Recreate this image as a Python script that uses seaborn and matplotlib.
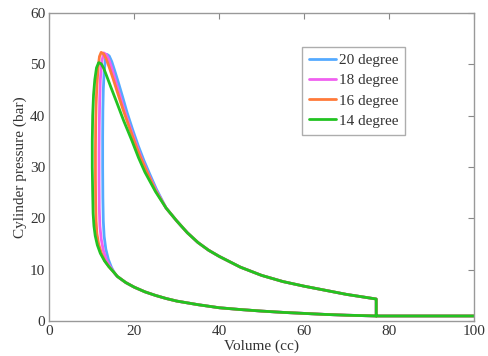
import matplotlib
matplotlib.use("Agg")
import matplotlib.pyplot as plt
import seaborn as sns
import pandas as pd

# ---- data ----
series_labels = ["20 degree", "18 degree", "16 degree", "14 degree"]
series_colors = ["#55AAFF", "#F060F0", "#FF7A3A", "#22C322"]

# intake / compression part shared by all runs (volume cc, pressure bar)
comp_V = [100, 77, 70, 65, 60, 55, 50, 45, 40, 35, 30, 27.5, 25, 22.5, 20, 18, 16, 15.3]
comp_p = [1.0, 1.0, 1.15, 1.3, 1.5, 1.7, 1.95, 2.25, 2.6, 3.2, 3.9, 4.4, 5.0, 5.7, 6.6, 7.5, 8.7, 9.4]

# combustion part, one per ignition timing
tdc_V_20 = [14.6, 13.9, 13.3, 12.9, 12.7, 12.6, 12.55, 12.55, 12.6, 12.7, 12.9, 13.2, 13.6, 14.1, 14.7,
            15.4, 16.3, 17.3, 18.3, 19.6, 20.9, 22.3, 23.7, 25.2]
tdc_p_20 = [10.5, 12.0, 14.0, 16.5, 19.5, 24.0, 30.0, 36.0, 41.0, 45.0, 48.5, 51.0, 51.9, 51.6, 50.5,
            48.7, 46.3, 43.5, 40.6, 37.3, 34.2, 31.2, 28.5, 25.7]

tdc_V_18 = [14.3, 13.4, 12.7, 12.2, 11.9, 11.75, 11.7, 11.7, 11.75, 11.85, 12.0, 12.3, 12.8, 13.4, 14.0,
            14.7, 15.5, 16.5, 17.6, 18.9, 20.2, 21.6, 23.1, 25.1]
tdc_p_18 = [10.6, 12.0, 13.8, 16.0, 18.5, 22.0, 27.0, 33.0, 38.0, 43.0, 47.0, 50.3, 52.2, 51.9, 50.9,
            49.2, 47.0, 44.2, 41.2, 38.0, 35.0, 31.9, 29.0, 25.5]

tdc_V_16 = [14.0, 13.0, 12.2, 11.6, 11.2, 11.0, 10.9, 10.85, 10.85, 10.9, 11.0, 11.2, 11.5, 11.8, 12.2,
            12.8, 13.4, 14.1, 15.0, 16.0, 17.3, 18.7, 20.0, 21.4, 22.9, 25.0]
tdc_p_16 = [10.6, 11.8, 13.3, 15.0, 17.0, 19.5, 23.0, 28.0, 33.0, 38.0, 42.0, 46.0, 49.5, 51.5, 52.3,
            52.0, 51.0, 49.4, 47.2, 44.6, 41.3, 38.0, 35.0, 32.0, 29.2, 25.4]

tdc_V_14 = [14.0, 13.0, 12.0, 11.3, 10.8, 10.5, 10.3, 10.2, 10.1, 10.1, 10.2, 10.4, 10.7, 11.1, 11.6,
            12.2, 12.8, 13.5, 14.5, 15.9, 17.5, 19.4, 21.0, 22.5, 25.0]
tdc_p_14 = [10.6, 11.7, 13.2, 14.8, 16.6, 18.5, 21.0, 25.0, 30.0, 35.0, 40.0, 44.0, 47.0, 49.3, 50.3,
            50.1, 49.2, 47.7, 45.5, 42.5, 39.0, 35.2, 31.8, 29.0, 25.2]

# expansion and blow-down part shared by all runs
exp_V = [27.5, 30, 32.5, 35, 37.5, 40, 45, 50, 55, 60, 65, 70, 77, 77]
exp_p = [22.0, 19.5, 17.2, 15.3, 13.8, 12.6, 10.5, 8.9, 7.7, 6.8, 6.0, 5.2, 4.3, 1.0]

tdc_V = [tdc_V_20, tdc_V_18, tdc_V_16, tdc_V_14]
tdc_p = [tdc_p_20, tdc_p_18, tdc_p_16, tdc_p_14]

x_ticks = [0, 20, 40, 60, 80, 100]
y_ticks = [0, 10, 20, 30, 40, 50, 60]

# ---- build table ----
frames = []
for lab, tv, tp in zip(series_labels, tdc_V, tdc_p):
    V = comp_V + tv + exp_V
    p = comp_p + tp + exp_p
    frames.append(pd.DataFrame({"V": V, "p": p, "series": lab, "order": range(len(V))}))
df = pd.concat(frames, ignore_index=True)

# ---- plot ----
sns.set_style("white")
plt.rcParams["font.family"] = ["Liberation Serif", "DejaVu Serif"]

fig = plt.figure(figsize=(4.89, 3.56), dpi=100)
ax = fig.add_axes([0.101, 0.098, 0.868, 0.866])

for lab, col in zip(series_labels, series_colors):
    sub = df[df["series"] == lab]
    sns.lineplot(data=sub, x="V", y="p", sort=False, estimator=None, color=col,
                 linewidth=2.0, label=lab, ax=ax)

ax.set_xlim(0, 100)
ax.set_ylim(0, 60)
ax.set_xticks(x_ticks)
ax.set_yticks(y_ticks)
ax.set_xlabel("Volume (cc)", fontsize=11, color="#333333", labelpad=1)
ax.set_ylabel("Cylinder pressure (bar)", fontsize=11, color="#333333", labelpad=2)
ax.tick_params(direction="in", length=4, width=0.8, colors="#888888", labelcolor="#333333",
               labelsize=11, top=True, right=True, pad=3)
for s in ax.spines.values():
    s.set_color("#999999")
    s.set_linewidth(1.0)

leg = ax.legend(loc="upper left", bbox_to_anchor=(0.595, 0.89), fontsize=11,
                frameon=True, fancybox=False, edgecolor="#999999", handlelength=1.8,
                handletextpad=0.15, borderpad=0.45, labelspacing=0.42, borderaxespad=0)
leg.get_frame().set_linewidth(1.0)
for t in leg.get_texts():
    t.set_color("#333333")

fig.savefig("out.png", dpi=100)
